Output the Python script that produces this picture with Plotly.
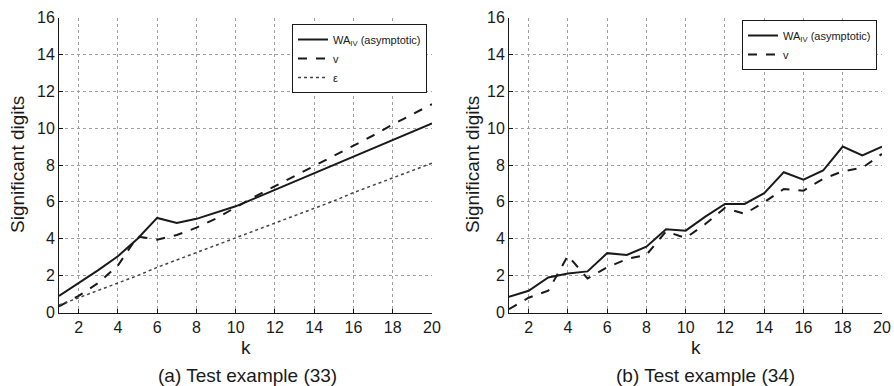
import plotly.graph_objects as go

k = list(range(1, 21))
x_ticks = [2, 4, 6, 8, 10, 12, 14, 16, 18, 20]
y_ticks = [0, 2, 4, 6, 8, 10, 12, 14, 16]

# (a) Test example (33)
wa_a = [0.9, 1.6, 2.3, 3.05, 4.0, 5.13, 4.86, 5.08, 5.4, 5.76,
        6.2, 6.65, 7.1, 7.55, 8.0, 8.45, 8.9, 9.35, 9.8, 10.25]
v_a = [0.33, 0.9, 1.6, 2.55, 4.12, 3.95, 4.2, 4.6, 5.1, 5.7,
       6.3, 6.85, 7.4, 7.95, 8.5, 9.05, 9.6, 10.2, 10.75, 11.3]
eps_a = [0.4, 0.8, 1.2, 1.6, 2.0, 2.45, 2.85, 3.25, 3.65, 4.05,
         4.45, 4.85, 5.25, 5.65, 6.05, 6.5, 6.9, 7.3, 7.7, 8.1]

# (b) Test example (34)
wa_b = [0.85, 1.18, 1.9, 2.12, 2.23, 3.22, 3.12, 3.57, 4.51, 4.44,
        5.2, 5.89, 5.89, 6.47, 7.61, 7.21, 7.7, 9.0, 8.52, 9.0]
v_b = [0.18, 0.8, 1.18, 3.08, 1.85, 2.45, 2.9, 3.13, 4.4, 4.04,
       4.8, 5.67, 5.35, 5.98, 6.7, 6.61, 7.25, 7.66, 7.85, 8.6]

INK = "#1a1a1a"
FONT = "Liberation Sans, Arial, sans-serif"

fig = go.Figure()
fig.add_trace(go.Scatter(x=k, y=wa_a, mode="lines", name="WA<sub>IV</sub> (asymptotic)",
                         line=dict(color=INK, width=2), xaxis="x", yaxis="y", legend="legend"))
fig.add_trace(go.Scatter(x=k, y=v_a, mode="lines", name="v",
                         line=dict(color=INK, width=2, dash="dash"), xaxis="x", yaxis="y", legend="legend"))
fig.add_trace(go.Scatter(x=k, y=eps_a, mode="lines", name="ε",
                         line=dict(color="#444444", width=1.5, dash="dot"), xaxis="x", yaxis="y", legend="legend"))
fig.add_trace(go.Scatter(x=k, y=wa_b, mode="lines", name="WA<sub>IV</sub> (asymptotic)",
                         line=dict(color=INK, width=2), xaxis="x2", yaxis="y2", legend="legend2"))
fig.add_trace(go.Scatter(x=k, y=v_b, mode="lines", name="v",
                         line=dict(color=INK, width=2, dash="dash"), xaxis="x2", yaxis="y2", legend="legend2"))

W, H = 894, 386
ybot = (H - 312.5) / H
ytop = (H - 17.5) / H

xax = dict(range=[1, 20], tickvals=x_ticks, showgrid=True, gridcolor="#a0a0a0", griddash="dot",
           gridwidth=1, showline=True, linecolor=INK, linewidth=1, ticks="inside", ticklen=4,
           tickcolor=INK, zeroline=False, automargin=False,
           tickfont=dict(size=16, color=INK, family=FONT))
yax = dict(range=[0, 16], tickvals=y_ticks, showgrid=True, gridcolor="#a0a0a0", griddash="dot",
           gridwidth=1, showline=True, linecolor=INK, linewidth=1, ticks="inside", ticklen=4,
           tickcolor=INK, zeroline=False, automargin=False,
           tickfont=dict(size=16, color=INK, family=FONT))

leg = dict(bgcolor="white", bordercolor=INK, borderwidth=1, font=dict(size=11, color=INK, family=FONT),
           xanchor="right", yanchor="top", tracegroupgap=0, itemwidth=30)

fig.update_layout(
    width=W, height=H, margin=dict(l=0, r=0, t=0, b=0, autoexpand=False),
    paper_bgcolor="white", plot_bgcolor="white",
    font=dict(family=FONT, color=INK),
    xaxis=dict(xax, domain=[59 / W, 432 / W], anchor="y"),
    yaxis=dict(yax, domain=[ybot, ytop], anchor="x"),
    xaxis2=dict(xax, domain=[509 / W, 882 / W], anchor="y2"),
    yaxis2=dict(yax, domain=[ybot, ytop], anchor="x2"),
    legend=dict(leg, x=427 / W, y=(H - 24) / H),
    legend2=dict(leg, x=877 / W, y=(H - 20) / H),
    annotations=[
        dict(text="Significant digits", x=17 / W, y=(ybot + ytop) / 2, xref="paper", yref="paper",
             textangle=-90, showarrow=False, font=dict(size=19, color=INK), xanchor="center", yanchor="middle"),
        dict(text="Significant digits", x=472 / W, y=(ybot + ytop) / 2, xref="paper", yref="paper",
             textangle=-90, showarrow=False, font=dict(size=19, color=INK), xanchor="center", yanchor="middle"),
        dict(text="k", x=246 / W, y=(H - 347) / H, xref="paper", yref="paper", showarrow=False,
             font=dict(size=19, color=INK), xanchor="center", yanchor="middle"),
        dict(text="k", x=696 / W, y=(H - 347) / H, xref="paper", yref="paper", showarrow=False,
             font=dict(size=19, color=INK), xanchor="center", yanchor="middle"),
        dict(text="(a) Test example (33)", x=247 / W, y=(H - 375) / H, xref="paper", yref="paper",
             showarrow=False, font=dict(size=19, color=INK), xanchor="center", yanchor="middle"),
        dict(text="(b) Test example (34)", x=705 / W, y=(H - 375) / H, xref="paper", yref="paper",
             showarrow=False, font=dict(size=19, color=INK), xanchor="center", yanchor="middle"),
    ],
)

fig.write_html(
    "out.html",
    config={"displayModeBar": False},
    post_script="document.body.style.margin='0';document.documentElement.style.overflow='hidden';",
)
